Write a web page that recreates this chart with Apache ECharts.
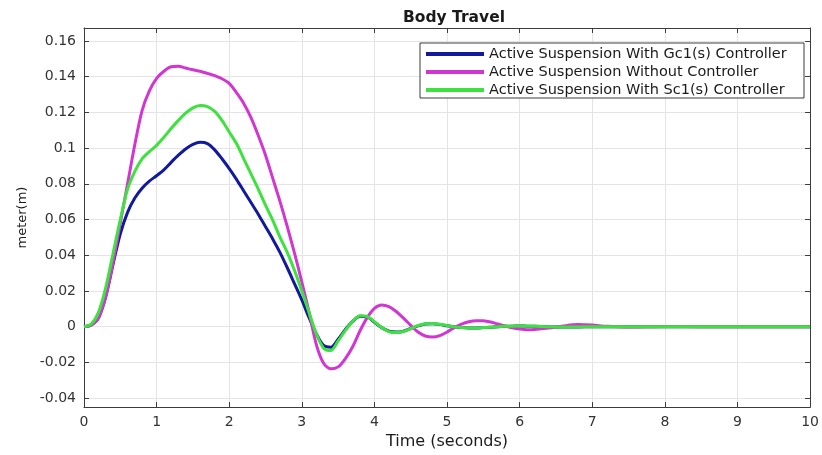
<!DOCTYPE html>
<html>
<head>
<meta charset="utf-8">
<script src="https://cdn.jsdelivr.net/npm/echarts@6/dist/echarts.min.js"></script>
<style>html,body{margin:0;padding:0;background:#fff;}#chart{width:822px;height:455px;}</style>
</head>
<body>
<div id="chart"></div>
<script>
const titleText = 'Body Travel';
const xName = 'Time (seconds)';
const yName = 'meter(m)';
const seriesNames = ['Active Suspension With Gc1(s) Controller', 'Active Suspension Without Controller', 'Active Suspension With Sc1(s) Controller'];
const xTicks = [0,1,2,3,4,5,6,7,8,9,10];
const yTicks = [-0.04,-0.02,0,0.02,0.04,0.06,0.08,0.1,0.12,0.14,0.16];

const time = [0,0.1,0.2,0.3,0.4,0.5,0.6,0.7,0.8,0.9,1.0,1.1,1.2,1.3,1.4,1.5,1.6,1.7,1.8,1.9,2.0,2.1,2.2,2.3,2.4,2.5,2.6,2.7,2.8,2.9,3.0,3.1,3.2,3.3,3.4,3.5,3.6,3.7,3.8,3.9,4.0,4.1,4.2,4.3,4.4,4.5,4.6,4.7,4.8,4.9,5.0,5.1,5.2,5.3,5.4,5.5,5.6,5.7,5.8,5.9,6.0,6.1,6.2,6.4,6.6,6.8,7.0,7.2,7.5,8.0,8.5,9.0,9.5,10.0];

const gc1 = [0,0.001,0.005,0.017,0.035,0.052,0.064,0.072,0.0775,0.0815,0.0845,0.0878,0.092,0.096,0.0995,0.102,0.1032,0.1025,0.099,0.094,0.0885,0.0825,0.076,0.0695,0.063,0.056,0.049,0.0415,0.033,0.024,0.015,0.005,-0.004,-0.0105,-0.0115,-0.007,-0.0015,0.003,0.0058,0.0055,0.0025,-0.0005,-0.0025,-0.003,-0.0025,-0.001,0.0005,0.0015,0.0017,0.0013,0.0005,-0.0001,-0.0005,-0.0007,-0.0007,-0.0005,-0.0003,0,0.0002,0.0003,0.0004,0.0003,0.0002,0,-0.0001,-0.0001,0,0,0,0,0,0,0,0];

const noCtrl = [0,0.001,0.005,0.017,0.036,0.058,0.080,0.102,0.121,0.132,0.139,0.143,0.1455,0.1458,0.1448,0.1438,0.143,0.1418,0.1405,0.1388,0.1362,0.131,0.125,0.117,0.107,0.096,0.083,0.070,0.056,0.041,0.025,0.008,-0.010,-0.0205,-0.0236,-0.0225,-0.0178,-0.0112,-0.0024,0.0051,0.0103,0.0122,0.0112,0.0085,0.0048,0.0007,-0.003,-0.0052,-0.0058,-0.005,-0.003,-0.0005,0.0015,0.0028,0.0034,0.0033,0.0026,0.0015,0.0004,-0.0006,-0.0013,-0.0017,-0.0016,-0.0008,0.0004,0.0012,0.0009,0.0002,-0.0002,0.0001,0,0,0,0];

const sc1 = [0,0.0015,0.008,0.022,0.041,0.060,0.077,0.087,0.094,0.098,0.1015,0.106,0.111,0.1155,0.1195,0.1225,0.1238,0.1232,0.1205,0.1155,0.109,0.1025,0.094,0.0855,0.077,0.068,0.0595,0.050,0.0415,0.0315,0.020,0.008,-0.004,-0.012,-0.0133,-0.008,-0.002,0.003,0.0062,0.0058,0.0028,-0.0005,-0.0028,-0.0033,-0.0027,-0.001,0.0006,0.0016,0.0018,0.0014,0.0006,-0.0001,-0.0005,-0.0007,-0.0007,-0.0005,-0.0003,0,0.0002,0.0003,0.0004,0.0003,0.0002,0,-0.0001,-0.0001,0,0,0,0,0,0,0,0];

const colors = ['#13199c', '#d236d2', '#3ee23e'];
const FONT = 'DejaVu Sans';
const Y_MIN = -0.045, Y_MAX = 0.1672;

function pairs(vals) { return time.map((t, i) => [t, vals[i]]); }
function fmtY(v) { return String(Number(v.toFixed(2))); }

const chart = echarts.init(document.getElementById('chart'), null, {renderer: 'canvas'});
const axisLineStyle = {color: '#3c3c3c', width: 1};
const option = {
  animation: false,
  backgroundColor: '#ffffff',
  textStyle: {fontFamily: FONT},
  title: {
    text: titleText, left: 449, top: 5, textAlign: 'center',
    textStyle: {fontFamily: FONT, fontSize: 15.5, fontWeight: 'bold', color: '#1a1a1a'}
  },
  grid: {left: 84, top: 28, right: 8, bottom: 46, containLabel: false},
  graphic: [{
    type: 'rect', z: 5, shape: {x: 420, y: 43, width: 384, height: 55},
    style: {fill: '#ffffff', stroke: '#3c3c3c', lineWidth: 1}
  }],
  legend: {
    z: 6, orient: 'vertical', left: 426, top: 45, padding: 0, itemGap: 0,
    itemWidth: 58, itemHeight: 4, icon: 'rect',
    textStyle: {fontFamily: FONT, fontSize: 14.5, color: '#1a1a1a', lineHeight: 18},
    data: seriesNames
  },
  xAxis: [{
    type: 'value', min: xTicks[0], max: xTicks[xTicks.length - 1], interval: 1,
    name: xName, nameLocation: 'middle', nameGap: 26,
    nameTextStyle: {fontFamily: FONT, fontSize: 16, color: '#1a1a1a'},
    axisLine: {show: true, onZero: false, lineStyle: axisLineStyle},
    axisTick: {show: true, inside: true, length: 5, lineStyle: axisLineStyle},
    axisLabel: {fontFamily: FONT, fontSize: 14, color: '#333', margin: 8},
    splitLine: {show: true, lineStyle: {color: '#e4e4e4', width: 1}}
  }, {
    type: 'value', position: 'top', min: xTicks[0], max: xTicks[xTicks.length - 1], interval: 1,
    axisLine: {show: true, onZero: false, lineStyle: axisLineStyle},
    axisTick: {show: true, inside: true, length: 5, lineStyle: axisLineStyle},
    axisLabel: {show: false}, splitLine: {show: false}
  }],
  yAxis: [{
    type: 'value', min: Y_MIN, max: Y_MAX,
    name: yName, nameLocation: 'middle', nameGap: 45, nameRotate: 90,
    nameTextStyle: {fontFamily: FONT, fontSize: 13, color: '#1a1a1a'},
    axisLine: {show: true, onZero: false, lineStyle: axisLineStyle},
    axisTick: {show: true, inside: true, length: 5, lineStyle: axisLineStyle, customValues: yTicks},
    axisLabel: {fontFamily: FONT, fontSize: 14, color: '#333', margin: 8, customValues: yTicks, formatter: fmtY},
    splitLine: {show: true, lineStyle: {color: '#e4e4e4', width: 1}}
  }, {
    type: 'value', position: 'right', min: Y_MIN, max: Y_MAX,
    axisLine: {show: true, onZero: false, lineStyle: axisLineStyle},
    axisTick: {show: true, inside: true, length: 5, lineStyle: axisLineStyle, customValues: yTicks},
    axisLabel: {show: false, customValues: yTicks}, splitLine: {show: false}
  }],
  series: [
    {name: seriesNames[0], type: 'line', data: pairs(gc1), xAxisIndex: 0, yAxisIndex: 0, showSymbol: false, smooth: 0.3, lineStyle: {width: 3, color: colors[0]}, itemStyle: {color: colors[0]}},
    {name: seriesNames[1], type: 'line', data: pairs(noCtrl), xAxisIndex: 0, yAxisIndex: 0, showSymbol: false, smooth: 0.3, lineStyle: {width: 3, color: colors[1]}, itemStyle: {color: colors[1]}},
    {name: seriesNames[2], type: 'line', data: pairs(sc1), xAxisIndex: 0, yAxisIndex: 0, showSymbol: false, smooth: 0.3, lineStyle: {width: 3, color: colors[2]}, itemStyle: {color: colors[2]}}
  ]
};
chart.setOption(option);
</script>
</body>
</html>
